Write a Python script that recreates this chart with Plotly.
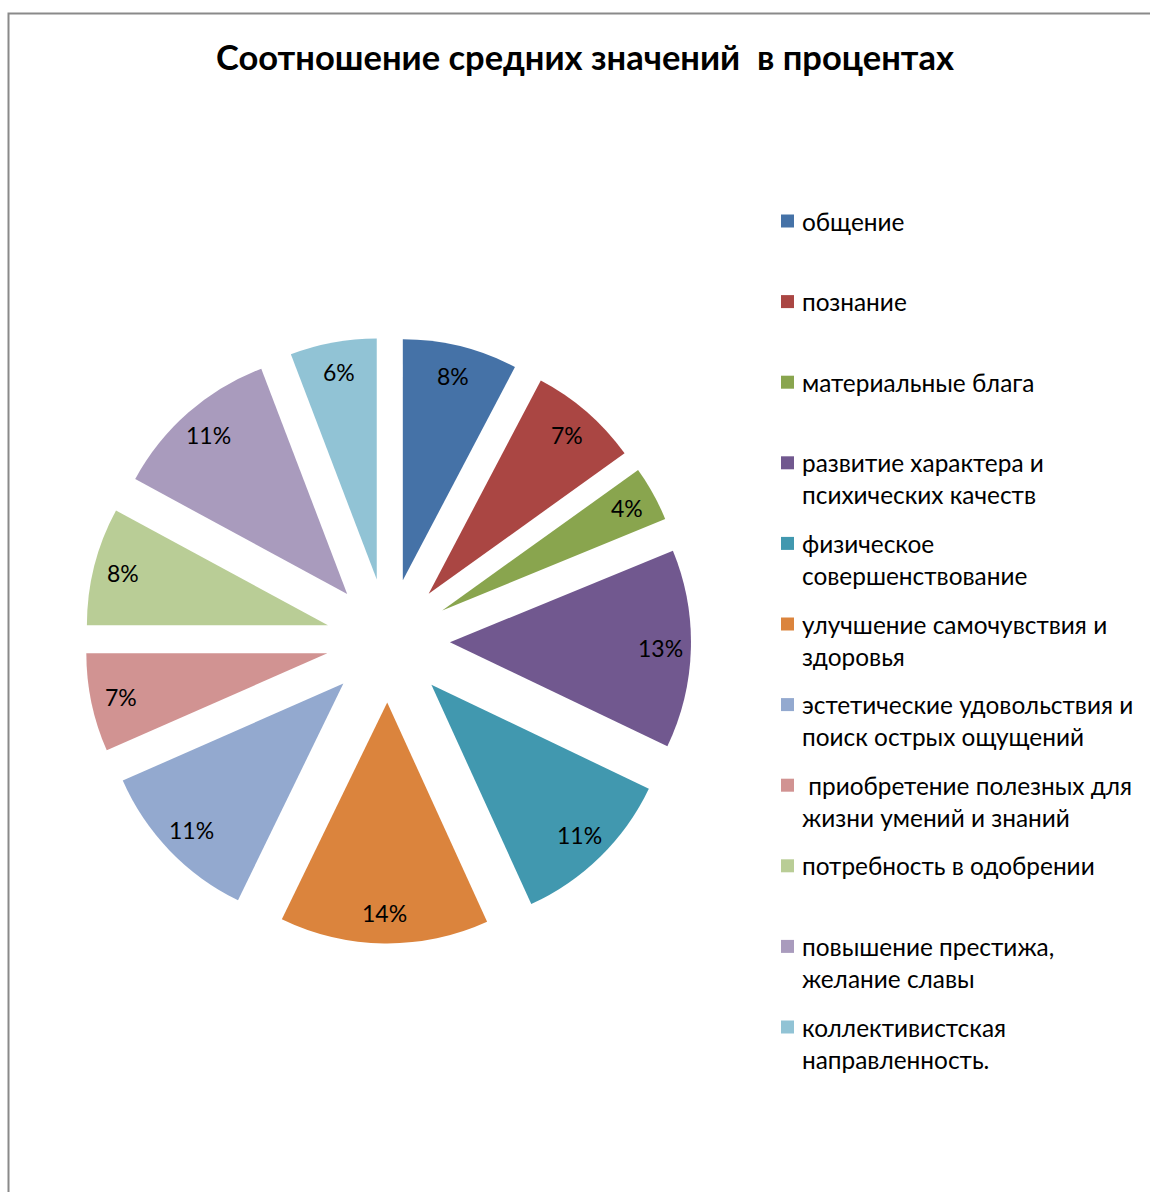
import math
import plotly.graph_objects as go

# --- data ---
categories = [
    "общение",
    "познание",
    "материальные блага",
    "развитие характера и психических качеств",
    "физическое совершенствование",
    "улучшение самочувствия и здоровья",
    "эстетические удовольствия и поиск острых ощущений",
    " приобретение полезных для жизни умений и знаний",
    "потребность в одобрении",
    "повышение престижа, желание славы",
    "коллективистская направленность.",
]
legend_lines = [
    ["общение"],
    ["познание"],
    ["материальные блага"],
    ["развитие характера и", "психических качеств"],
    ["физическое", "совершенствование"],
    ["улучшение самочувствия и", "здоровья"],
    ["эстетические удовольствия и", "поиск острых ощущений"],
    ["\u00a0приобретение полезных для", "жизни умений и знаний"],
    ["потребность в одобрении"],
    ["повышение престижа,", "желание славы"],
    ["коллективистская", "направленность."],
]
# shares of the average values, in percent
share_values = [7.7, 7.4, 3.7, 13.3, 11.1, 14.0, 11.2, 6.6, 7.9, 11.3, 5.8]
colors = [
    "#4572A7", "#AA4643", "#89A54E", "#71588F", "#4198AF", "#DB843D",
    "#93A9CF", "#D19392", "#B9CD96", "#A99BBD", "#91C3D5",
]

W, H = 1150, 1192
FONT = "Lato"

# pie box in pixels (square), explode fraction
box_x0, box_x1 = 85.0, 691.0
box_y0, box_y1 = 337.5, 943.5
pull = 0.257

fig = go.Figure(
    go.Pie(
        labels=categories,
        values=share_values,
        sort=False,
        direction="clockwise",
        rotation=0,
        pull=[pull] * len(share_values),
        marker=dict(colors=colors, line=dict(width=0)),
        textinfo="none",
        hoverinfo="label+percent",
        showlegend=False,
        domain=dict(
            x=[box_x0 / W, box_x1 / W],
            y=[1 - box_y1 / H, 1 - box_y0 / H],
        ),
    )
)

# percentage labels placed near the outer part of each exploded slice
cx = (box_x0 + box_x1) / 2
cy = (box_y0 + box_y1) / 2
r = (box_x1 - box_x0) / 2 / (1 + pull)
label_dist = pull * r + 0.875 * r
total = sum(share_values)
annotations = []
cum = 0
for v in share_values:
    mid = (cum + v / 2) / total * 2 * math.pi
    cum += v
    px = cx + label_dist * math.sin(mid)
    py = cy - label_dist * math.cos(mid)
    annotations.append(dict(
        x=px / W, y=1 - py / H, xref="paper", yref="paper",
        text=f"{round(v / total * 100)}%", showarrow=False,
        font=dict(family=FONT, size=23, color="#000000"),
        xanchor="center", yanchor="middle",
    ))

# legend drawn as square swatches and text
shapes = []
leg_x_sq = 781
leg_x_txt = 800
leg_y0 = 221
leg_step = 80.6
line_gap = 32
for i, (lines, c) in enumerate(zip(legend_lines, colors)):
    y = leg_y0 + i * leg_step
    shapes.append(dict(
        type="rect", xref="paper", yref="paper",
        x0=leg_x_sq / W, x1=(leg_x_sq + 13) / W,
        y0=1 - (y + 6.5) / H, y1=1 - (y - 6.5) / H,
        fillcolor=c, line=dict(width=0),
    ))
    for j, t in enumerate(lines):
        annotations.append(dict(
            x=leg_x_txt / W, y=1 - (y + j * line_gap) / H,
            xref="paper", yref="paper", text=t, showarrow=False,
            font=dict(family=FONT, size=24.4, color="#000000"),
            xanchor="left", yanchor="middle",
        ))

# chart border
shapes.append(dict(
    type="rect", xref="paper", yref="paper",
    x0=8.5 / W, x1=1.02, y0=-0.02, y1=1 - 13.5 / H,
    line=dict(color="#8a8a8a", width=2), fillcolor="rgba(0,0,0,0)",
))

fig.update_layout(
    width=W, height=H,
    margin=dict(l=0, r=0, t=0, b=0),
    paper_bgcolor="white",
    title=dict(
        text="<b>Соотношение средних значений\u00a0 в процентах</b>",
        x=585 / W, xanchor="center", y=1 - 58 / H, yanchor="middle",
        font=dict(family=FONT, size=34.5, color="#000000"),
    ),
    annotations=annotations,
    shapes=shapes,
)

fig.write_html("out.html")
